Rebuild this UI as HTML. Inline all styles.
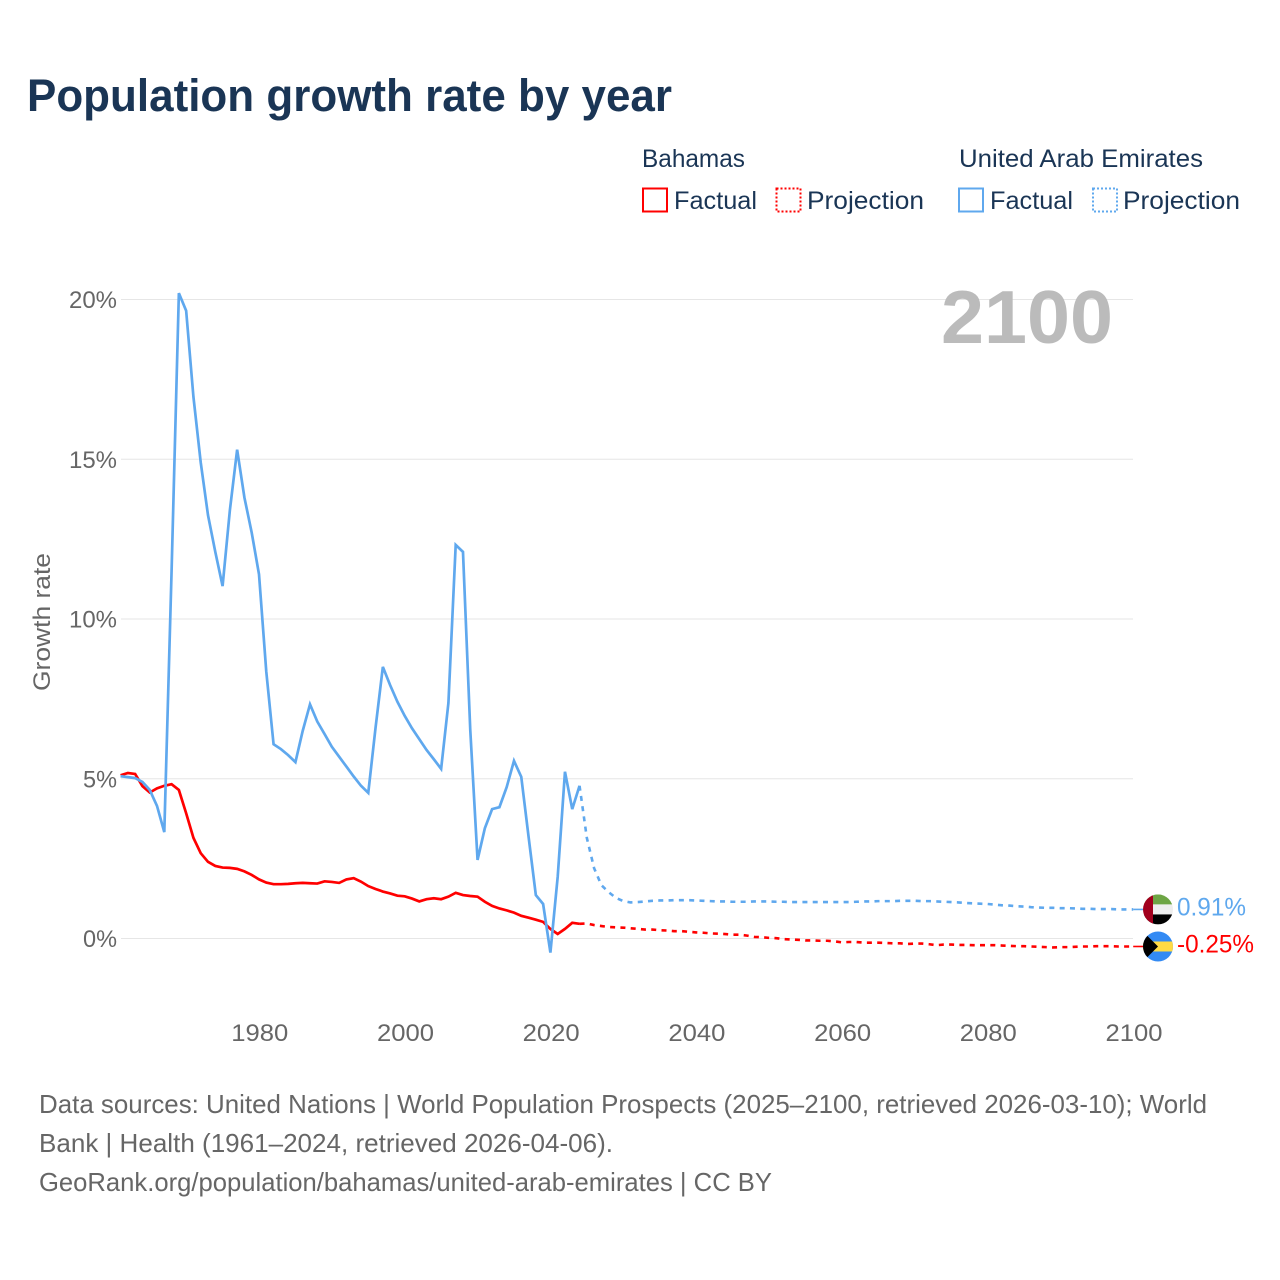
<!DOCTYPE html>
<html lang="en">
<head>
<meta charset="utf-8">
<title>Population growth rate by year</title>
<style>
html,body{margin:0;padding:0;background:#fff;}
svg{display:block;font-family:"Liberation Sans",sans-serif;}
</style>
</head>
<body>
<svg id="chart" xmlns="http://www.w3.org/2000/svg" width="1280" height="1280" viewBox="0 0 1280 1280">
  <rect x="0" y="0" width="1280" height="1280" fill="#ffffff"/>
  <text x="27" y="111" font-size="45" font-weight="bold" fill="#1a3555" textLength="645" lengthAdjust="spacingAndGlyphs">Population growth rate by year</text>

  <g font-size="25" fill="#1a3555">
    <text x="642" y="167" textLength="103" lengthAdjust="spacingAndGlyphs">Bahamas</text>
    <rect x="643" y="188.500" width="24" height="23" fill="none" stroke="#ff0000" stroke-width="2"/>
    <text x="674" y="209" textLength="83" lengthAdjust="spacingAndGlyphs">Factual</text>
    <rect x="776.500" y="188.500" width="24" height="23" fill="none" stroke="#ff0000" stroke-width="2" stroke-dasharray="2 2"/>
    <text x="807" y="209" textLength="117" lengthAdjust="spacingAndGlyphs">Projection</text>
    <text x="959" y="167" textLength="244" lengthAdjust="spacingAndGlyphs">United Arab Emirates</text>
    <rect x="959" y="188.500" width="24" height="23" fill="none" stroke="#5fa8ee" stroke-width="2"/>
    <text x="990" y="209" textLength="83" lengthAdjust="spacingAndGlyphs">Factual</text>
    <rect x="1093" y="188.500" width="24" height="23" fill="none" stroke="#5fa8ee" stroke-width="2" stroke-dasharray="2 2"/>
    <text x="1123" y="209" textLength="117" lengthAdjust="spacingAndGlyphs">Projection</text>
  </g>

  <g id="grid"></g>
  <g id="y-ticks"></g>
  <g id="x-ticks"></g>
  <text transform="translate(50 622) rotate(-90)" text-anchor="middle" font-size="24" fill="#666666" textLength="138" lengthAdjust="spacingAndGlyphs">Growth rate</text>
  <text x="941" y="343" font-size="75" font-weight="bold" fill="#bbbbbb" textLength="172" lengthAdjust="spacingAndGlyphs">2100</text>
  <g id="series"></g>

  <g id="flag-uae">
    <clipPath id="clip-uae"><circle id="clip-uae-circle" cx="1158" cy="909" r="15"/></clipPath>
    <g id="flag-uae-art" clip-path="url(#clip-uae)">
      <rect x="1143" y="894" width="30" height="10" fill="#6da544"/>
      <rect x="1143" y="904" width="30" height="10" fill="#eeeeee"/>
      <rect x="1143" y="914" width="30" height="10" fill="#000000"/>
      <rect x="1143" y="894" width="10" height="30" fill="#a2001d"/>
    </g>
  </g>
  <g id="flag-bahamas">
    <clipPath id="clip-bahamas"><circle id="clip-bahamas-circle" cx="1158" cy="946" r="15"/></clipPath>
    <g id="flag-bahamas-art" clip-path="url(#clip-bahamas)">
      <rect x="1143" y="931" width="30" height="30" fill="#338af3"/>
      <rect x="1143" y="941" width="30" height="10" fill="#ffda44"/>
      <polygon points="1143,931 1158,946 1143,961" fill="#000000"/>
    </g>
  </g>
  <text id="label-uae" x="1177" y="915" font-size="25" fill="#5fa8ee" textLength="69" lengthAdjust="spacingAndGlyphs"></text>
  <text id="label-bahamas" x="1177" y="952" font-size="25" fill="#ff0000" textLength="77" lengthAdjust="spacingAndGlyphs"></text>

  <g font-size="26" fill="#666666">
    <text x="39" y="1113" textLength="1168" lengthAdjust="spacingAndGlyphs">Data sources: United Nations | World Population Prospects (2025–2100, retrieved 2026-03-10); World</text>
    <text x="39" y="1152" textLength="574" lengthAdjust="spacingAndGlyphs">Bank | Health (1961–2024, retrieved 2026-04-06).</text>
    <text x="39" y="1191" textLength="733" lengthAdjust="spacingAndGlyphs">GeoRank.org/population/bahamas/united-arab-emirates | CC BY</text>
  </g>
</svg>
<script>
const firstFactualYear = 1961;
const firstProjectionYear = 2025;

const yTickValues = [0, 5, 10, 15, 20];
const yTickLabels = ["0%", "5%", "10%", "15%", "20%"];
const xTickYears = [1980, 2000, 2020, 2040, 2060, 2080, 2100];

const bahamasFactual = [
  5.11, 5.18, 5.15, 4.77, 4.57, 4.70, 4.78, 4.83, 4.65,
  3.92, 3.15, 2.67, 2.40, 2.27, 2.22, 2.21, 2.18, 2.10, 1.99,
  1.85, 1.75, 1.70, 1.70, 1.71, 1.73, 1.74, 1.73, 1.72, 1.79,
  1.77, 1.74, 1.85, 1.89, 1.78, 1.64, 1.55, 1.47, 1.41, 1.34,
  1.32, 1.25, 1.16, 1.23, 1.26, 1.23, 1.31, 1.43, 1.36, 1.33,
  1.31, 1.15, 1.02, 0.94, 0.88, 0.81, 0.71, 0.65, 0.59, 0.52,
  0.30, 0.14, 0.30, 0.49, 0.46
];

const uaeFactual = [
  5.08, 5.05, 5.02, 4.90, 4.65, 4.15, 3.33, 11.50, 20.20,
  19.65, 16.95, 14.90, 13.25, 12.10, 11.03, 13.40, 15.30, 13.80, 12.70,
  11.40, 8.35, 6.08, 5.93, 5.74, 5.52, 6.50, 7.33, 6.79, 6.40,
  6.00, 5.69, 5.38, 5.07, 4.78, 4.56, 6.60, 8.50, 7.93, 7.41,
  6.97, 6.58, 6.24, 5.90, 5.61, 5.31, 7.37, 12.32, 12.10, 6.53,
  2.46, 3.45, 4.05, 4.11, 4.74, 5.56, 5.06, 3.19, 1.36, 1.08,
  -0.44, 1.93, 5.22, 4.05, 4.78
];

const bahamasProjection = [
  0.47, 0.42, 0.39, 0.36, 0.35, 0.34, 0.32, 0.30, 0.28, 0.28,
  0.26, 0.25, 0.23, 0.23, 0.21, 0.19, 0.18, 0.16, 0.15, 0.14,
  0.12, 0.12, 0.09, 0.05, 0.04, 0.02, 0.01, -0.02, -0.03, -0.04,
  -0.06, -0.06, -0.07, -0.07, -0.09, -0.12, -0.11, -0.11, -0.13, -0.13,
  -0.13, -0.14, -0.15, -0.15, -0.17, -0.16, -0.16, -0.18, -0.21, -0.19,
  -0.19, -0.20, -0.20, -0.21, -0.21, -0.21, -0.21, -0.22, -0.23, -0.24,
  -0.24, -0.25, -0.26, -0.27, -0.28, -0.27, -0.27, -0.26, -0.25, -0.25,
  -0.24, -0.24, -0.24, -0.25, -0.25, -0.25
];

const uaeProjection = [
  3.15, 2.20, 1.67, 1.45, 1.27, 1.17, 1.13, 1.14, 1.16, 1.18,
  1.19, 1.19, 1.20, 1.20, 1.20, 1.19, 1.18, 1.17, 1.16, 1.16,
  1.15, 1.15, 1.15, 1.16, 1.16, 1.16, 1.15, 1.15, 1.14, 1.14,
  1.14, 1.14, 1.14, 1.14, 1.14, 1.14, 1.14, 1.15, 1.16, 1.16,
  1.17, 1.17, 1.17, 1.18, 1.18, 1.18, 1.17, 1.17, 1.16, 1.15,
  1.14, 1.13, 1.11, 1.10, 1.09, 1.08, 1.06, 1.04, 1.03, 1.01,
  1.00, 0.98, 0.97, 0.96, 0.96, 0.95, 0.95, 0.94, 0.93, 0.93,
  0.92, 0.92, 0.92, 0.91, 0.91, 0.91
];

const SVG_NS = "http://www.w3.org/2000/svg";
const RED = "#ff0000";
const BLUE = "#5fa8ee";

function xScale(year) {
  return 1133.2 + (year - 2100) * 7.285;
}
function yScale(value) {
  return 938.5 - value * 31.95;
}
function pointsFrom(startYear, values) {
  return values.map(function (v, i) {
    return xScale(startYear + i).toFixed(2) + "," + yScale(v).toFixed(2);
  });
}
function formatPercent(v) {
  return v.toFixed(2) + "%";
}

const gridGroup = document.getElementById("grid");
const yTickGroup = document.getElementById("y-ticks");
const xTickGroup = document.getElementById("x-ticks");
const seriesGroup = document.getElementById("series");

yTickValues.forEach(function (v, i) {
  const line = document.createElementNS(SVG_NS, "line");
  
  
  line.setAttribute("x1", 121);
  line.setAttribute("x2", 1133);
  line.setAttribute("y1", yScale(v));
  line.setAttribute("y2", yScale(v));
  line.setAttribute("stroke", "#e6e6e6");
  line.setAttribute("stroke-width", 1);
  gridGroup.appendChild(line);

  const label = document.createElementNS(SVG_NS, "text");
  
  
  label.setAttribute("x", 117);
  label.setAttribute("y", yScale(v) + 8.5);
  label.setAttribute("text-anchor", "end");
  label.setAttribute("font-size", 24);
  label.setAttribute("fill", "#666666");
  label.setAttribute("textLength", yTickLabels[i].length === 2 ? 34 : 48);
  label.setAttribute("lengthAdjust", "spacingAndGlyphs");
  label.textContent = yTickLabels[i];
  yTickGroup.appendChild(label);
});

xTickYears.forEach(function (year) {
  const label = document.createElementNS(SVG_NS, "text");
  
  
  label.setAttribute("x", xScale(year) + 0.8);
  label.setAttribute("y", 1041);
  label.setAttribute("text-anchor", "middle");
  label.setAttribute("font-size", 24);
  label.setAttribute("fill", "#666666");
  label.setAttribute("textLength", 57);
  label.setAttribute("lengthAdjust", "spacingAndGlyphs");
  label.textContent = String(year);
  xTickGroup.appendChild(label);
});

function addProjection(name, color, factual, projection) {
  const last = factual[factual.length - 1];
  const pts = pointsFrom(firstProjectionYear - 1, [last].concat(projection));
  const line = document.createElementNS(SVG_NS, "polyline");
  
  
  line.setAttribute("points", pts.join(" "));
  line.setAttribute("fill", "none");
  line.setAttribute("stroke", color);
  line.setAttribute("stroke-width", 2.6);
  line.setAttribute("stroke-dasharray", "5 5.3");
  seriesGroup.appendChild(line);

  const end = projection[projection.length - 1];
  const connector = document.createElementNS(SVG_NS, "line");
  
  
  connector.setAttribute("x1", xScale(2100));
  connector.setAttribute("x2", 1143);
  connector.setAttribute("y1", yScale(end));
  connector.setAttribute("y2", yScale(end));
  connector.setAttribute("stroke", color);
  connector.setAttribute("stroke-width", 1.6);
  seriesGroup.appendChild(connector);
}

function addFactual(name, color, factual) {
  const line = document.createElementNS(SVG_NS, "polyline");
  
  
  line.setAttribute("points", pointsFrom(firstFactualYear, factual).join(" "));
  line.setAttribute("fill", "none");
  line.setAttribute("stroke", color);
  line.setAttribute("stroke-width", 2.7);
  line.setAttribute("stroke-linejoin", "miter");
  seriesGroup.appendChild(line);
}

addProjection("bahamas-projection-line", RED, bahamasFactual, bahamasProjection);
addFactual("bahamas-factual-line", RED, bahamasFactual);
addProjection("uae-projection-line", BLUE, uaeFactual, uaeProjection);
addFactual("uae-factual-line", BLUE, uaeFactual);

function placeEnd(code, labelEl, values) {
  const end = values[values.length - 1];
  const y = yScale(end);
  labelEl.textContent = formatPercent(end);
  labelEl.setAttribute("y", (y + 6).toFixed(2));
  const baseY = parseFloat(document.getElementById("clip-" + code + "-circle").getAttribute("cy"));
  document.getElementById("flag-" + code).setAttribute("transform", "translate(0 " + (y - baseY).toFixed(2) + ")");
}
placeEnd("uae", document.getElementById("label-uae"), uaeProjection);
placeEnd("bahamas", document.getElementById("label-bahamas"), bahamasProjection);
</script>
</body>
</html>
